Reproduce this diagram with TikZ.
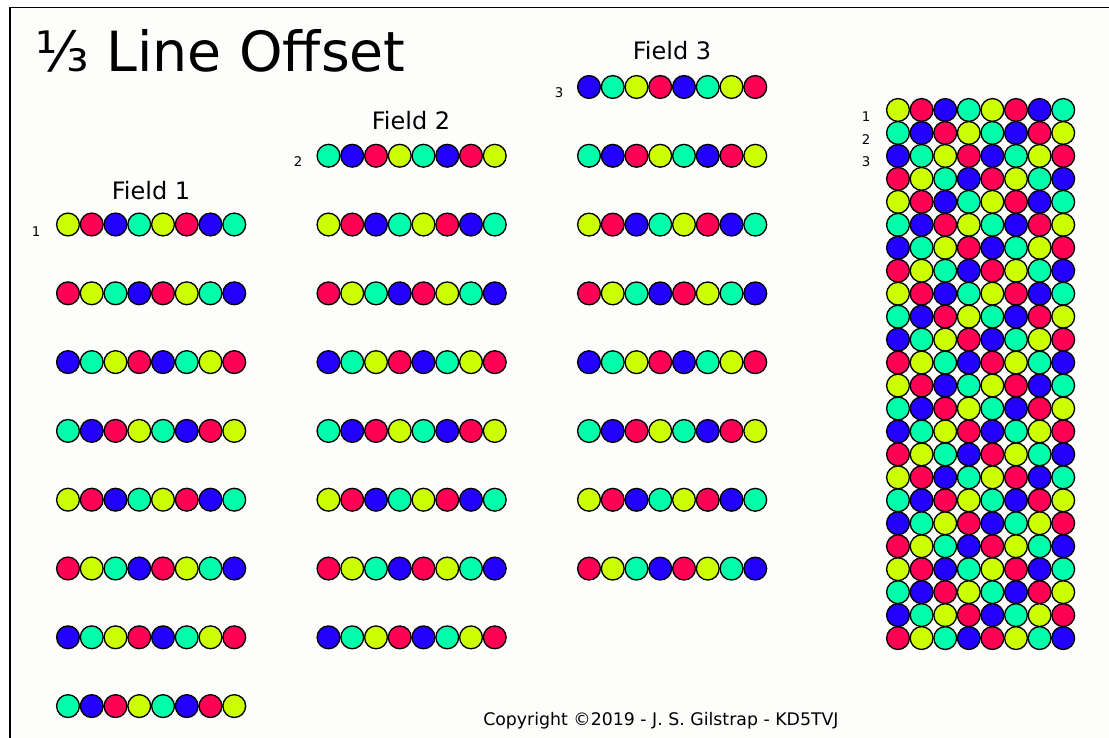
\documentclass[tikz,border=0pt]{standalone}
\usepackage{fontspec}
\setmainfont{DejaVu Sans}
\definecolor{cy}{RGB}{204,255,0}
\definecolor{cr}{RGB}{255,0,85}
\definecolor{cb}{RGB}{34,0,255}
\definecolor{ca}{RGB}{0,255,170}
\definecolor{paper}{RGB}{253,253,251}
\newcommand\pickcol[1]{\ifcase#1 cy\or cr\or cb\or ca\or cr\or cy\or ca\or cb\or cb\or ca\or cy\or cr\or ca\or cb\or cr\or cy\fi}
\tikzset{
  ball/.style={circle, draw=black, line width=1pt, inner sep=0pt, minimum size=17.1pt},
  rowlab/.style={inner sep=0pt, font=\fontsize{10}{12}\selectfont},
  fieldtitle/.style={inner sep=0pt, anchor=base, font=\fontsize{18}{21}\selectfont},
}
\begin{document}
\begin{tikzpicture}[x=0.75pt,y=-0.75pt]
\useasboundingbox (0,0) rectangle (1109,738);
\fill[white] (0,0) rectangle (1109,738);
\fill[paper] (9,7) rectangle (1109,738);
\draw[line width=1.5pt] (9.5,7) -- (9.5,738);
\draw[line width=1.1pt] (9,7.5) -- (1109,7.5);
% title
\node[anchor=base west, inner sep=0pt, font=\fontsize{41.5}{48}\selectfont] (title) at (35,72) {⅓ Line Offset};
% fields
\foreach \ff/\off in {0/0,1/3,2/2} {
  \foreach \kk in {0,...,7} {
    \foreach \cc in {0,...,7} {
      \pgfmathtruncatemacro\pp{mod(\kk+\off,4)}
      \pgfmathtruncatemacro\qq{mod(\cc,4)}
      \pgfmathtruncatemacro\ix{4*\pp+\qq}
      \edef\col{\pickcol{\ix}}
      \node[ball, fill=\col] (f\ff r\kk c\cc) at ({68+260.5*\ff+23.75*\cc},{224.5-68.75*\ff+68.8*\kk}) {};
    }
  }
}
% combined grid
\foreach \nn in {0,...,23} {
  \foreach \cc in {0,...,7} {
    \pgfmathtruncatemacro\pp{mod(24-\nn,4)}
    \pgfmathtruncatemacro\qq{mod(\cc,4)}
    \pgfmathtruncatemacro\ix{4*\pp+\qq}
    \edef\col{\pickcol{\ix}}
    \node[ball, fill=\col] (g\nn c\cc) at ({898+23.6*\cc},{110+22.96*\nn}) {};
  }
}
% field titles
\node[fieldtitle] (t1) at (151,199) {Field 1};
\node[fieldtitle] (t2) at (411,130) {Field 2};
\node[fieldtitle] (t3) at (672,60) {Field 3};
% row labels
\node[rowlab] (l1) at (36,232) {1};
\node[rowlab] (l2) at (298,162) {2};
\node[rowlab] (l3) at (559,93) {3};
\node[rowlab] (gl1) at (866,117) {1};
\node[rowlab] (gl2) at (866,140) {2};
\node[rowlab] (gl3) at (866,162) {3};
% copyright
\node[anchor=base west, inner sep=0pt, font=\fontsize{13}{16}\selectfont] (copy) at (483,725) {Copyright ©2019 - J. S. Gilstrap - KD5TVJ};
\end{tikzpicture}
\end{document}
